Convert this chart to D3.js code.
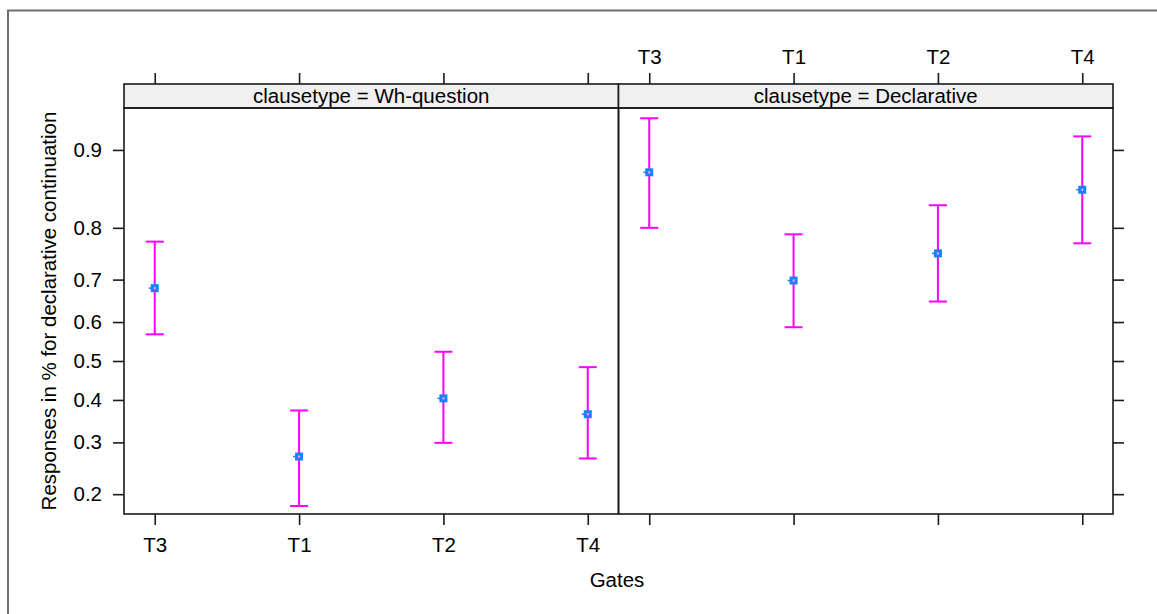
<!DOCTYPE html>
<html>
<head>
<meta charset="utf-8">
<script src="https://cdn.jsdelivr.net/npm/d3@7"></script>
<style>
  body { margin: 0; background: #fff; }
  text { font-family: "Liberation Sans", Arial, sans-serif; fill: #000; }
</style>
</head>
<body>
<div id="chart"></div>
<script>
const width = 1157;
const height = 614;

// Effect plot: fitted proportion with confidence interval per gate and clause type
const gates = ["T3", "T1", "T2", "T4"];
const clauseTypes = ["Wh-question", "Declarative"];

const fitWh = [0.681, 0.270, 0.404, 0.365];
const lowerWh = [0.569, 0.181, 0.299, 0.266];
const upperWh = [0.776, 0.374, 0.524, 0.484];

const fitDecl = [0.877, 0.698, 0.754, 0.856];
const lowerDecl = [0.800, 0.587, 0.650, 0.773];
const upperDecl = [0.926, 0.789, 0.835, 0.912];

const yTicks = [0.2, 0.3, 0.4, 0.5, 0.6, 0.7, 0.8, 0.9];
const yLimits = [0.169, 0.933];

const logit = p => Math.log(p / (1 - p));
const expit = v => 1 / (1 + Math.exp(-v));

const panels = [
  { type: clauseTypes[0], fit: fitWh, lower: lowerWh, upper: upperWh },
  { type: clauseTypes[1], fit: fitDecl, lower: lowerDecl, upper: upperDecl }
];

const panelTop = 108;
const panelBottom = 514;
const panelLeft = 124;
const panelW = 494.5;
const stripH = 24;
const tickLen = 11;
const lineColor = "#1a1a1a";
const fontSize = "20.5px";

const svg = d3.select("#chart").append("svg")
  .attr("width", width)
  .attr("height", height);

// outer frame (only top and left edges are visible)
svg.append("path")
  .attr("d", `M8,${height} V10.5 H${width}`)
  .attr("fill", "none")
  .attr("stroke", "#6e6e6e")
  .attr("stroke-width", 2);

// y is linear in logit space
const y = d3.scaleLinear()
  .domain(yLimits.map(logit))
  .range([panelBottom, panelTop]);

const x = d3.scalePoint()
  .domain(gates)
  .range([0, panelW])
  .padding(0.213);

const fmt = v => d3.format(".1f")(expit(v));

panels.forEach((p, i) => {
  const x0 = panelLeft + i * panelW;
  const g = svg.append("g").attr("transform", `translate(${x0},0)`);

  // strip
  g.append("rect")
    .attr("x", 0).attr("y", panelTop - stripH)
    .attr("width", panelW).attr("height", stripH)
    .attr("fill", "#f0f0f0")
    .attr("stroke", lineColor)
    .attr("stroke-width", 1.6);

  g.append("text")
    .attr("x", panelW / 2)
    .attr("y", panelTop - 5)
    .attr("text-anchor", "middle")
    .style("font-size", fontSize)
    .text("clausetype = " + p.type);

  // bottom axis: labels only on first panel
  const bottom = g.append("g")
    .attr("transform", `translate(0,${panelBottom})`)
    .call(d3.axisBottom(x).tickSize(tickLen).tickPadding(12)
      .tickFormat(i === 0 ? (d => d) : () => ""));

  // top axis: labels only on second panel
  const top = g.append("g")
    .attr("transform", `translate(0,${panelTop - stripH})`)
    .call(d3.axisTop(x).tickSize(tickLen).tickPadding(9)
      .tickFormat(i === 1 ? (d => d) : () => ""));

  [bottom, top].forEach(a => {
    a.select(".domain").remove();
    a.selectAll("line").attr("stroke", lineColor).attr("stroke-width", 1.6);
    a.selectAll("text").style("font-size", fontSize).attr("fill", "#000");
  });

  // error bars
  const bars = g.append("g")
    .selectAll("g")
    .data(gates.map((gate, j) => ({ gate, fit: p.fit[j], lower: p.lower[j], upper: p.upper[j] })))
    .join("g")
    .attr("transform", d => `translate(${x(d.gate)},0)`);

  bars.append("line")
    .attr("y1", d => y(logit(d.lower)))
    .attr("y2", d => y(logit(d.upper)))
    .attr("stroke", "#ff00ff")
    .attr("stroke-width", 2);

  bars.selectAll(".cap")
    .data(d => [d.lower, d.upper])
    .join("line")
    .attr("class", "cap")
    .attr("x1", -9).attr("x2", 9)
    .attr("y1", v => y(logit(v)))
    .attr("y2", v => y(logit(v)))
    .attr("stroke", "#ff00ff")
    .attr("stroke-width", 2);

  bars.append("line")
    .attr("x1", -6).attr("x2", 0)
    .attr("y1", d => y(logit(d.fit)))
    .attr("y2", d => y(logit(d.fit)))
    .attr("stroke", "#1a80ff")
    .attr("stroke-width", 1.5);

  bars.append("rect")
    .attr("x", -4)
    .attr("y", d => y(logit(d.fit)) - 4)
    .attr("width", 8).attr("height", 8)
    .attr("fill", "#1a80ff");

  bars.append("rect")
    .attr("x", -1)
    .attr("y", d => y(logit(d.fit)) - 1)
    .attr("width", 2).attr("height", 2)
    .attr("fill", "#f4b0ff");

  // panel border
  g.append("rect")
    .attr("x", 0).attr("y", panelTop)
    .attr("width", panelW).attr("height", panelBottom - panelTop)
    .attr("fill", "none")
    .attr("stroke", lineColor)
    .attr("stroke-width", 1.6);
});

// left y axis with labels
const yLeft = svg.append("g")
  .attr("transform", `translate(${panelLeft},0)`)
  .call(d3.axisLeft(y).tickValues(yTicks.map(logit)).tickFormat(fmt)
    .tickSize(tickLen).tickPadding(11));

// right y axis, ticks only
const yRight = svg.append("g")
  .attr("transform", `translate(${panelLeft + 2 * panelW},0)`)
  .call(d3.axisRight(y).tickValues(yTicks.map(logit)).tickFormat(() => "")
    .tickSize(tickLen));

[yLeft, yRight].forEach(a => {
  a.select(".domain").remove();
  a.selectAll("line").attr("stroke", lineColor).attr("stroke-width", 1.6);
  a.selectAll("text").style("font-size", fontSize).attr("fill", "#000");
});

// axis titles
svg.append("text")
  .attr("transform", "translate(49,311) rotate(-90)")
  .attr("text-anchor", "middle")
  .attr("dy", "0.35em")
  .style("font-size", fontSize)
  .text("Responses in % for declarative continuation");

svg.append("text")
  .attr("x", 617)
  .attr("y", 580)
  .attr("dy", "0.35em")
  .attr("text-anchor", "middle")
  .style("font-size", fontSize)
  .text("Gates");
</script>
</body>
</html>
